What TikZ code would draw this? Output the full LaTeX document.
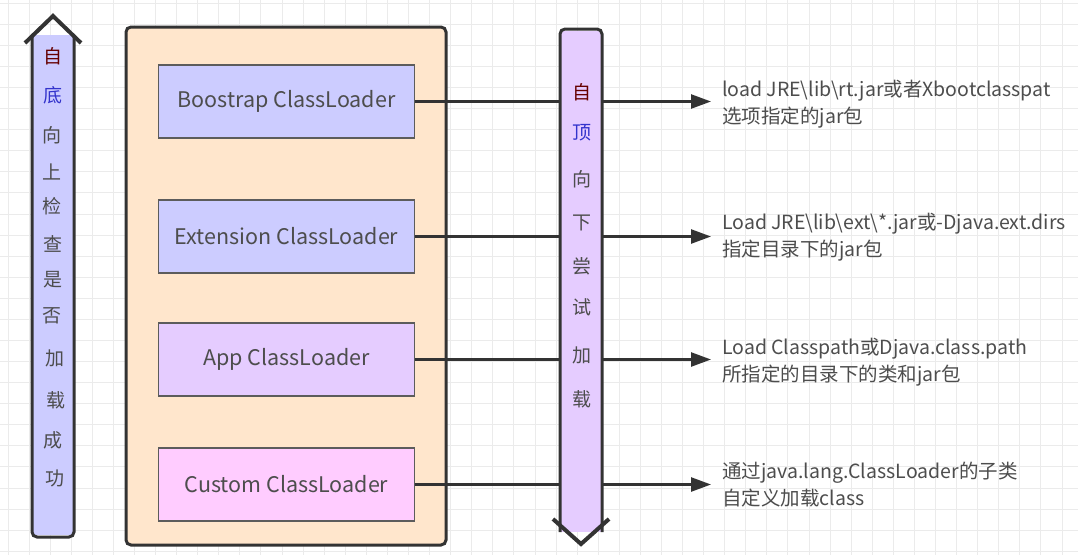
\documentclass[tikz,border=0pt]{standalone}
\usepackage{fontspec}
\newfontfamily\cjk{Noto Sans CJK SC}
\usetikzlibrary{arrows.meta,positioning}
\definecolor{peach}{HTML}{FFE6CC}
\definecolor{lblue}{HTML}{CCCCFF}
\definecolor{lpurple}{HTML}{E5CCFF}
\definecolor{lpink}{HTML}{FFCCFF}
\definecolor{edge}{HTML}{333333}
\definecolor{txt}{HTML}{4D4D4D}
\definecolor{gridc}{HTML}{EBEBEB}
\definecolor{dred}{HTML}{660000}
\definecolor{dblue}{HTML}{3333CC}
\tikzset{
  loader/.style={draw=edge!80, line width=1.3pt, minimum width=256pt,
    minimum height=73pt, inner sep=0pt, text=txt,
    font=\cjk\fontsize{21.5}{21.5}\selectfont},
  note/.style={anchor=west, inner sep=0pt, align=left, text=txt,
    font=\cjk\fontsize{19.5}{27}\selectfont},
  conn/.style={draw=edge, line width=2.5pt, shorten >=11pt,
    -{Triangle[length=20pt,width=14pt]}},
  glyph/.style={inner sep=0pt, text=txt, font=\cjk\fontsize{19}{19}\selectfont},
  flow/.style={draw=edge, line width=3pt, rounded corners=5pt},
}
\begin{document}
\begin{tikzpicture}[x=1pt,y=-1pt]
  \useasboundingbox (0,0) rectangle (1078,555);
  \clip (0,0) rectangle (1078,555);
  % grid
  \fill[white] (0,0) rectangle (1078,555);
  \foreach \k in {0,...,51}
    \draw[gridc, line width=1pt] ({8+21.08*\k},0) -- ++(0,555);
  \foreach \k in {0,...,26}
    \draw[gridc, line width=1pt] (0,{3.2+21.08*\k}) -- ++(1078,0);

  % container
  \draw[flow, fill=peach] (126,27) rectangle (446,545);

  % loaders
  \node[loader, fill=lblue] (boot) at (286.5,101.5) {Boostrap ClassLoader};
  \node[loader, fill=lblue] (ext) at (286.5,236.5) {Extension ClassLoader};
  \node[loader, fill=lpurple] (app) at (286.5,359.5) {App ClassLoader};
  \node[loader, fill=lpink] (custom) at (286.5,484.5) {Custom ClassLoader};

  % notes
  \node[note] (bootnote) at (722,104)
    {load JRE\textbackslash lib\textbackslash rt.jar或者Xbootclasspat\\选项指定的jar包};
  \node[note] (extnote) at (722,237)
    {Load JRE\textbackslash lib\textbackslash ext\textbackslash *.jar或-Djava.ext.dirs\\指定目录下的jar包};
  \node[note] (appnote) at (722,362)
    {Load Classpath或Djava.class.path\\所指定的目录下的类和jar包};
  \node[note] (customnote) at (722,485)
    {通过java.lang.ClassLoader的子类\\自定义加载class};

  \draw[conn] (boot.east) -- (boot.east -| bootnote.west);
  \draw[conn] (ext.east) -- (ext.east -| extnote.west);
  \draw[conn] (app.east) -- (app.east -| appnote.west);
  \draw[conn] (custom.east) -- (custom.east -| customnote.west);

  % up arrow
  \fill[lblue] (32,35) rectangle (74,535);
  \draw[flow] (32,35) -- (32,537) -- (74,537) -- (74,35);
  \draw[edge, line width=4pt] (25,43) -- (53,16) -- (81,43);
  \foreach \ch/\xx/\yy/\cc in {自/53/56/dred, 底/53/95/dblue, 向/52/135/txt,
      上/52/172/txt, 检/52/206/txt, 查/53/244/txt, 是/53/280/txt,
      否/52/316/txt, 加/55/358/txt, 载/56/400/txt, 成/53/440/txt, 功/55/478/txt}
    \node[glyph, text=\cc] at (\xx,\yy) {\ch};

  % down arrow
  \fill[lpurple] (560,31) rectangle (602,532);
  \draw[flow] (560,532) -- (560,29) -- (602,29) -- (602,532);
  \draw[edge, line width=4pt] (553,519) -- (581,544) -- (609,519);
  \foreach \ch/\yy/\cc in {自/92/dred, 顶/133/dblue, 向/179/txt, 下/223/txt,
      尝/266/txt, 试/307/txt, 加/355/txt, 载/399/txt}
    \node[glyph, text=\cc] at (582,\yy) {\ch};
\end{tikzpicture}
\end{document}
